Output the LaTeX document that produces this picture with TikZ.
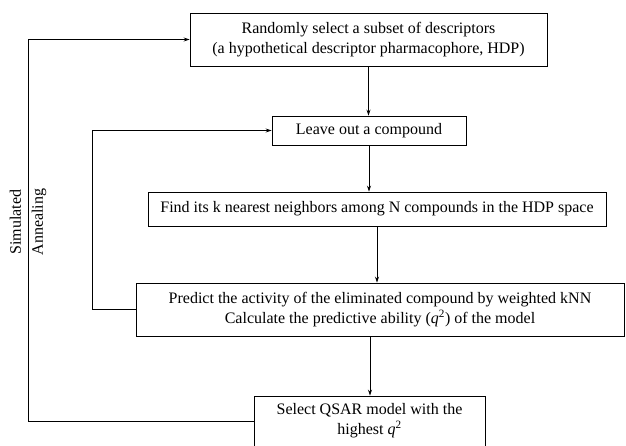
\documentclass[tikz,border=0pt]{standalone}
\usepackage{fontspec}
\setmainfont{Liberation Serif}
\usetikzlibrary{positioning, arrows.meta}

\begin{document}
\begin{tikzpicture}[x=1pt, y=-1pt,
        box/.style={draw, line width=0.9pt, align=center, inner sep=0pt,
            font=\fontsize{16}{20}\selectfont},
        arr/.style={line width=0.8pt, -{Stealth[length=6pt, width=4pt]}}]
        \useasboundingbox (0,0) rectangle (626,445);
        \node[box, minimum width=357pt, minimum height=53pt] (rand) at (368.5,39.5)
            {Randomly select a subset of descriptors\\(a hypothetical descriptor pharmacophore, HDP)};
        \node[box, minimum width=194pt, minimum height=29pt] (leave) at (369,130.5)
            {Leave out a compound};
        \node[box, minimum width=458pt, minimum height=34pt] (find) at (377,209)
            {Find its k nearest neighbors among N compounds in the HDP space};
        \node[box, minimum width=488pt, minimum height=53pt] (pred) at (380,309.5)
            {Predict the activity of the eliminated compound by weighted kNN\\
             Calculate the predictive ability (\textit{q}\textsuperscript{2}) of the model};
        \node[box, minimum width=231pt, minimum height=50pt] (sel) at (369.5,421)
            {Select QSAR model with the\\highest \textit{q}\textsuperscript{2}};
        \coordinate (outer) at (28,0);
        \coordinate (inner) at (92,0);
        \node[rotate=90, align=center, font=\fontsize{16}{22}\selectfont] (sa) at (28,222)
            {Simulated\\Annealing};
        % main flow
        \draw[arr] (rand.south) -- (rand.south |- leave.north);
        \draw[arr] (leave.south) -- (leave.south |- find.north);
        \draw[arr] (find.south) -- (find.south |- pred.north);
        \draw[arr] ([xshift=-10pt]pred.south) -- ([xshift=-10pt]pred.south |- sel.north);
        % loops
        \draw[arr] (pred.west) -- (pred.west -| inner) |- (leave.west);
        \draw[arr] (sel.west) -- (sel.west -| outer) |- (rand.west);
\end{tikzpicture}
\end{document}
